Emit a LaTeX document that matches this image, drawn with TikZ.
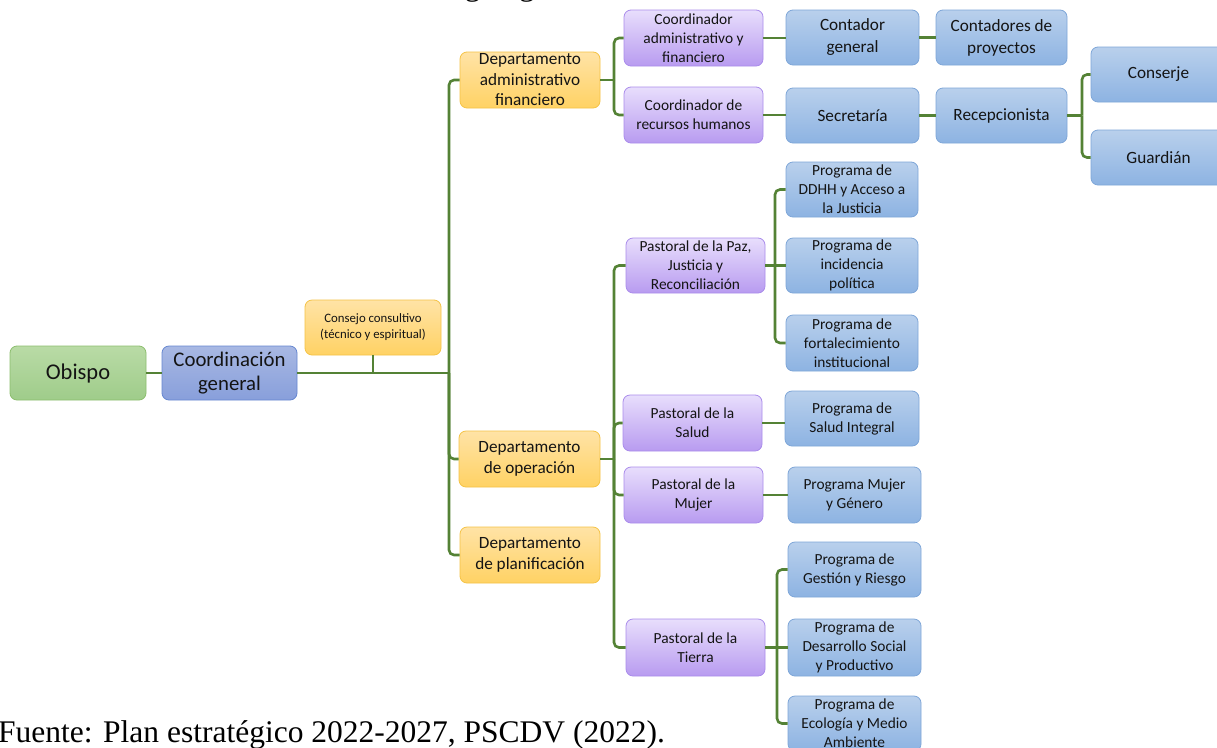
\documentclass[tikz,border=0pt]{standalone}
\usepackage{fontspec}
\setmainfont{Liberation Serif}
\newfontfamily\calfont{Carlito}
\definecolor{bluetop}{HTML}{B9D0EC}
\definecolor{bluebot}{HTML}{8DB3E2}
\definecolor{bluedraw}{HTML}{7EA6D8}
\definecolor{purtop}{HTML}{E8DEFC}
\definecolor{purbot}{HTML}{B89BF0}
\definecolor{purdraw}{HTML}{AA8CEB}
\definecolor{ortop}{HTML}{FFE3A6}
\definecolor{orbot}{HTML}{FFD264}
\definecolor{ordraw}{HTML}{F5C346}
\definecolor{grtop}{HTML}{B9DBA6}
\definecolor{grbot}{HTML}{9FCC8A}
\definecolor{grdraw}{HTML}{8CBE6E}
\definecolor{cgtop}{HTML}{A8B8E3}
\definecolor{cgbot}{HTML}{889FDB}
\definecolor{cgdraw}{HTML}{6687D0}
\definecolor{lineg}{HTML}{548235}
\definecolor{txt}{HTML}{141414}
\tikzset{
  box/.style={rectangle, rounded corners=7pt, inner sep=0pt, align=center, text=txt, line width=0.8pt},
  bluebox/.style={box, draw=bluedraw, top color=bluetop, bottom color=bluebot},
  purbox/.style={box, draw=purdraw, top color=purtop, bottom color=purbot},
  orbox/.style={box, draw=ordraw, top color=ortop, bottom color=orbot},
  grbox/.style={box, draw=grdraw, top color=grtop, bottom color=grbot},
  cgbox/.style={box, draw=cgdraw, top color=cgtop, bottom color=cgbot},
  fbig/.style={font=\calfont\fontsize{22.5}{26}\selectfont},
  fcg/.style={font=\calfont\fontsize{20.8}{24.5}\selectfont},
  fsmall/.style={font=\calfont\fontsize{12.8}{16}\selectfont},
  fdept/.style={font=\calfont\fontsize{17.2}{20.5}\selectfont},
  fmid/.style={font=\calfont\fontsize{15.4}{19}\selectfont},
  fcont/.style={font=\calfont\fontsize{17.2}{22}\selectfont},
  conn/.style={draw=lineg, line width=2.6pt, rounded corners=5pt},
  capt/.style={anchor=base west, inner sep=0pt, text=black, font=\fontsize{31.5}{36}\selectfont}
}
\begin{document}
\begin{tikzpicture}[x=1pt,y=-1pt]
\useasboundingbox (0,0) rectangle (1217,747);
\clip (0,0) rectangle (1217,747);
\fill[white] (0,0) rectangle (1217,747);

% title (cut by the top edge, as in the source) and source line
\node[capt] (title) at (432,-5) {Organigrama de la institución};
\node[capt] (src) at (-2,742) {Fuente: Plan estratégico 2022-2027, PSCDV (2022).};

% level 1-2
\node[grbox, fbig, minimum width=136pt, minimum height=54pt] (ob) at (78,373) {Obispo};
\node[cgbox, fcg, minimum width=135pt, minimum height=54pt] (cg) at (229.5,373) {Coordinación\\general};
\node[orbox, fsmall, minimum width=136pt, minimum height=55pt] (cc) at (373,327.5) {Consejo consultivo\\(técnico y espiritual)};

% departments
\node[orbox, fdept, minimum width=140pt, minimum height=56pt] (dadm) at (530,80) {Departamento\\administrativo\\financiero};
\node[orbox, fdept, minimum width=141pt, minimum height=56pt] (dop) at (529.5,459) {Departamento\\de operación};
\node[orbox, fdept, minimum width=140pt, minimum height=56pt] (dpl) at (530,555) {Departamento\\de planificación};

% administrative branch
\node[purbox, fmid, minimum width=139pt, minimum height=56pt] (cadm) at (693.5,38) {Coordinador\\administrativo y\\financiero};
\node[purbox, fmid, minimum width=139pt, minimum height=56pt] (crh) at (693.5,115) {Coordinador de\\recursos humanos};
\node[bluebox, fcont, minimum width=133pt, minimum height=55pt] (cont) at (852.5,37.5) {Contador\\general};
\node[bluebox, fcont, minimum width=131pt, minimum height=55pt] (contp) at (1001.5,37.5) {Contadores de\\proyectos};
\node[bluebox, fcont, minimum width=133pt, minimum height=55pt] (sec) at (852.5,115.5) {Secretaría};
\node[bluebox, fcont, minimum width=131pt, minimum height=55pt] (rec) at (1001.5,115.5) {Recepcionista};
\node[bluebox, fcont, minimum width=135pt, minimum height=55pt] (consj) at (1158.5,74.5) {Conserje};
\node[bluebox, fcont, minimum width=135pt, minimum height=55pt] (guard) at (1158.5,157.5) {Guardián};

% operation branch
\node[purbox, fmid, minimum width=139pt, minimum height=55pt] (paz) at (695.5,265.5) {Pastoral de la Paz,\\Justicia y\\Reconciliación};
\node[purbox, fmid, minimum width=139pt, minimum height=56pt] (salud) at (692.5,423) {Pastoral de la\\Salud};
\node[purbox, fmid, minimum width=139pt, minimum height=56pt] (mujer) at (693.5,495) {Pastoral de la\\Mujer};
\node[purbox, fmid, minimum width=139pt, minimum height=57pt] (tierra) at (695.5,647.5) {Pastoral de la\\Tierra};

\node[bluebox, fmid, minimum width=132pt, minimum height=55pt] (ddhh) at (852,189.5) {Programa de\\DDHH y Acceso a\\la Justicia};
\node[bluebox, fmid, minimum width=132pt, minimum height=55pt] (inc) at (852,265.5) {Programa de\\incidencia\\política};
\node[bluebox, fmid, minimum width=132pt, minimum height=56pt] (fort) at (852,343) {Programa de\\fortalecimiento\\institucional};
\node[bluebox, fmid, minimum width=134pt, minimum height=55pt] (sint) at (852,418.5) {Programa de\\Salud Integral};
\node[bluebox, fmid, minimum width=133pt, minimum height=56pt] (mg) at (854.5,495) {Programa Mujer\\y Género};
\node[bluebox, fmid, minimum width=133pt, minimum height=55pt] (gest) at (854.5,569.5) {Programa de\\Gestión y Riesgo};
\node[bluebox, fmid, minimum width=133pt, minimum height=57pt] (desa) at (854.5,647.5) {Programa de\\Desarrollo Social\\y Productivo};
\node[bluebox, fmid, minimum width=133pt, minimum height=55pt] (eco) at (854.5,723.5) {Programa de\\Ecología y Medio\\Ambiente};

% connectors
\coordinate (t) at (449,373);
\draw[conn] (ob.east) -- (cg.west);
\draw[conn] (cg.east) -- (t);
\draw[conn] (cc.south) -- (cc.south |- t);
\draw[conn] (t) |- (dadm.west);
\draw[conn] (t) |- (dop.west);
\draw[conn] (t) |- (dpl.west);

\coordinate (ba) at (614,80);
\draw[conn] (dadm.east) -- (ba);
\draw[conn] (ba) |- (cadm.west);
\draw[conn] (ba) |- (crh.west);
\draw[conn] (cadm.east) -- (cadm.east -| cont.west);
\draw[conn] (cont.east) -- (cont.east -| contp.west);
\draw[conn] (crh.east) -- (crh.east -| sec.west);
\draw[conn] (sec.east) -- (sec.east -| rec.west);
\coordinate (br) at (1082,115.5);
\draw[conn] (rec.east) -- (br);
\draw[conn] (br) |- (consj.west);
\draw[conn] (br) |- (guard.west);

\coordinate (bo) at (614,459);
\draw[conn] (dop.east) -- (bo);
\draw[conn] (bo) |- (paz.west);
\draw[conn] (bo) |- (salud.west);
\draw[conn] (bo) |- (mujer.west);
\draw[conn] (bo) |- (tierra.west);

\coordinate (bp) at (775,265.5);
\draw[conn] (paz.east) -- (bp);
\draw[conn] (bp) |- (ddhh.west);
\draw[conn] (bp) -- (bp -| inc.west);
\draw[conn] (bp) |- (fort.west);
\draw[conn] (salud.east) -- (salud.east -| sint.west);
\draw[conn] (mujer.east) -- (mujer.east -| mg.west);

\coordinate (bt) at (777,647.5);
\draw[conn] (tierra.east) -- (bt);
\draw[conn] (bt) |- (gest.west);
\draw[conn] (bt) -- (bt -| desa.west);
\draw[conn] (bt) |- (eco.west);
\end{tikzpicture}
\end{document}
